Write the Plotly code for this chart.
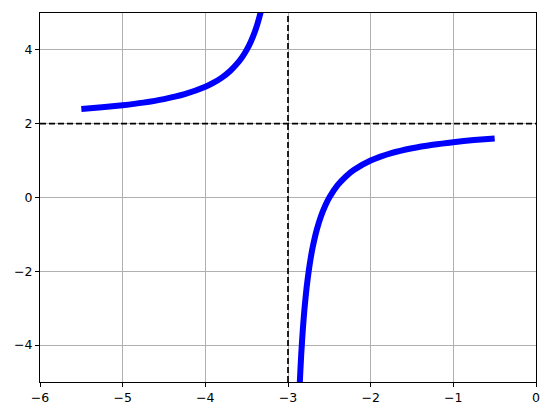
import plotly.graph_objects as go

# Left branch
x_left = [-5.5, -5.25, -5.0, -4.75, -4.5, -4.25, -4.0, -3.9, -3.8, -3.7, -3.6, -3.55, -3.5, -3.45, -3.4, -3.375, -3.35, -3.325, -3.3, -3.275, -3.25]
y_left = [2.4, 2.444, 2.5, 2.571, 2.667, 2.8, 3.0, 3.111, 3.25, 3.429, 3.667, 3.818, 4.0, 4.222, 4.5, 4.667, 4.857, 5.077, 5.333, 5.636, 6.0]

# Right branch
x_right = [-2.9, -2.88, -2.86, -2.84, -2.82, -2.8, -2.775, -2.75, -2.725, -2.7, -2.65, -2.6, -2.55, -2.5, -2.4, -2.3, -2.2, -2.0, -1.75, -1.5, -1.25, -1.0, -0.75, -0.5]
y_right = [-8.0, -6.333, -5.143, -4.25, -3.556, -3.0, -2.444, -2.0, -1.636, -1.333, -0.857, -0.5, -0.222, 0.0, 0.333, 0.571, 0.75, 1.0, 1.2, 1.333, 1.429, 1.5, 1.556, 1.6]

v_asym = -3
h_asym = 2
x_ticks = [-6, -5, -4, -3, -2, -1, 0]
y_ticks = [-4, -2, 0, 2, 4]

fig = go.Figure()
for xs, ys in [(x_left, y_left), (x_right, y_right)]:
    fig.add_trace(go.Scatter(x=xs, y=ys, mode="lines", line=dict(color="#0000ff", width=6, shape="spline", smoothing=0.6), showlegend=False, hoverinfo="skip"))

fig.add_shape(type="line", x0=v_asym, x1=v_asym, y0=0, y1=1, yref="paper", xref="x", line=dict(color="black", width=1.7, dash="6px,3px"))
fig.add_shape(type="line", x0=0, x1=1, xref="paper", y0=h_asym, y1=h_asym, yref="y", line=dict(color="black", width=1.7, dash="6px,3px"))

axis_common = dict(showgrid=True, gridcolor="#b0b0b0", gridwidth=0.8, zeroline=False,
                   showline=True, linecolor="black", linewidth=1, mirror=True,
                   ticks="outside", ticklen=4, tickwidth=1, tickcolor="black", automargin=False,
                   tickfont=dict(family="DejaVu Sans", size=12.5, color="black"))
fig.update_xaxes(range=[-6, 0], tickvals=x_ticks, **axis_common)
fig.update_yaxes(range=[-5, 5], tickvals=y_ticks, **axis_common)

fig.update_layout(width=550, height=416, margin=dict(l=40, r=14, t=13, b=34),
                  plot_bgcolor="white", paper_bgcolor="white")
fig.write_html("out.html", config={"displayModeBar": False},
               post_script="document.body.style.margin='0';document.body.style.padding='0';")
